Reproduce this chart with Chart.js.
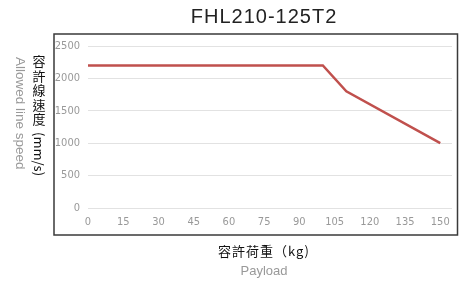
<!DOCTYPE html>
<html><head><meta charset="utf-8">
<script src="https://cdn.jsdelivr.net/npm/chart.js@4/dist/chart.umd.min.js"></script>
<style>html,body{margin:0;padding:0;background:#fff}#wrap{width:459px;height:281px;position:relative}</style>
</head><body><div id="wrap"><canvas id="c" width="459" height="281"></canvas></div>
<script>
const chartTitle = 'FHL210-125T2';
const payloadKg = [0, 100, 110, 150];
const lineSpeed = [2200, 2200, 1800, 1000];
const xTickValues = [0, 15, 30, 45, 60, 75, 90, 105, 120, 135, 150];
const yTickValues = [0, 500, 1000, 1500, 2000, 2500];
const yTitleCJK = '容許線速度';
const yTitleUnit = '(mm/s)';
const yTitleEn = 'Allowed line speed';
const xTitleCJK = '容許荷重（kg)';
const xTitleEn = 'Payload';

const points = payloadKg.map((x, i) => ({x: x, y: lineSpeed[i]}));
const tickFont = {family: "'Liberation Sans Narrow', 'DejaVu Sans Condensed', 'Liberation Sans'", size: 11};
const CJK = "'Noto Sans CJK TC', 'Noto Sans CJK SC', sans-serif";

const decor = {
  id: 'decor',
  afterDraw(chart) {
    const ctx = chart.ctx;
    ctx.save();
    // frame
    ctx.strokeStyle = '#3a3a3a';
    ctx.lineWidth = 1.5;
    ctx.strokeRect(54, 34, 403.5, 201);
    // title
    ctx.fillStyle = '#222';
    ctx.font = "20px 'Liberation Sans', Arial, sans-serif";
    ctx.textAlign = 'center';
    ctx.textBaseline = 'middle';
    if ('letterSpacing' in ctx) ctx.letterSpacing = '1px';
    ctx.fillText(chartTitle, 264, 17);
    if ('letterSpacing' in ctx) ctx.letterSpacing = '0px';
    // y title, CJK upright stacked
    ctx.fillStyle = '#111';
    ctx.font = '13px ' + CJK;
    const chars = Array.from(yTitleCJK);
    chars.forEach((ch, i) => ctx.fillText(ch, 39, 61 + i * 14.6));
    ctx.save();
    ctx.translate(39, 132);
    ctx.rotate(Math.PI / 2);
    ctx.textAlign = 'left';
    ctx.fillText(yTitleUnit, 0, 0);
    ctx.restore();
    // gray english y title
    ctx.save();
    ctx.fillStyle = '#999';
    ctx.font = "13.5px 'Liberation Sans', Arial, sans-serif";
    ctx.translate(20, 57);
    ctx.rotate(Math.PI / 2);
    ctx.textAlign = 'left';
    ctx.fillText(yTitleEn, 0, 0);
    ctx.restore();
    // x title
    ctx.fillStyle = '#111';
    ctx.font = '13px ' + CJK;
    ctx.textAlign = 'center';
    if ('letterSpacing' in ctx) ctx.letterSpacing = '1px';
    ctx.fillText(xTitleCJK, 264, 251);
    if ('letterSpacing' in ctx) ctx.letterSpacing = '0px';
    ctx.fillStyle = '#999';
    ctx.font = "13px 'Liberation Sans', Arial, sans-serif";
    ctx.fillText(xTitleEn, 264, 271);
    ctx.restore();
  }
};

new Chart(document.getElementById('c'), {
  type: 'line',
  data: {
    datasets: [{
      data: points,
      borderColor: '#c0504d',
      borderWidth: 2.5,
      pointRadius: 0,
      tension: 0,
      fill: false
    }]
  },
  options: {
    responsive: false,
    devicePixelRatio: 1,
    animation: false,
    layout: {padding: {left: 54, top: 46, right: 7, bottom: 46}},
    plugins: {legend: {display: false}, tooltip: {enabled: false}, title: {display: false}},
    scales: {
      x: {
        type: 'linear',
        min: 0, max: 155,
        afterFit: s => { s.height = 27; },
        afterBuildTicks: s => { s.ticks = xTickValues.map(v => ({value: v})); },
        ticks: {stepSize: 15, padding: 8, color: '#999', font: tickFont, maxRotation: 0, autoSkip: false,
                callback: v => String(v)},
        grid: {display: false, drawTicks: false},
        border: {display: false}
      },
      y: {
        min: 0, max: 2500,
        afterFit: s => { s.width = 34; },
        afterBuildTicks: s => { s.ticks = yTickValues.map(v => ({value: v})); },
        ticks: {stepSize: 500, padding: 8, color: '#999', font: tickFont, callback: v => String(v)},
        grid: {color: '#e2e2e2', lineWidth: 1, drawTicks: false},
        border: {display: false}
      }
    }
  },
  plugins: [decor]
});
</script>
</body></html>
